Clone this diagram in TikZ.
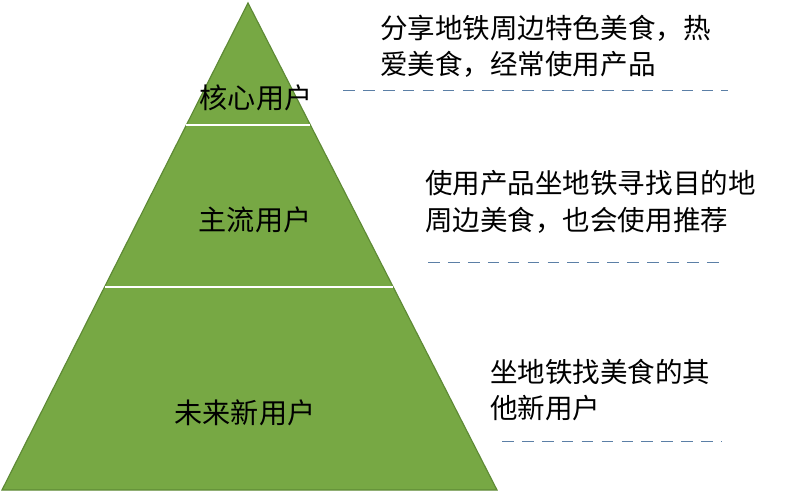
\documentclass[tikz,border=0pt]{standalone}
\usepackage{fontspec}
\setmainfont{Noto Sans CJK SC}
\usetikzlibrary{positioning}
\definecolor{leaf}{HTML}{77A844}
\definecolor{leafline}{HTML}{5E8A35}
\definecolor{guide}{HTML}{5B7FA6}
\tikzset{
    band/.style={fill=leaf, draw=leafline, line width=1pt},
    tier/.style={font=\fontsize{24}{28}\selectfont},
    note/.style={font=\fontsize{23.5}{31}\selectfont, anchor=west, align=left, inner sep=0pt},
    guideline/.style={guide, line width=0.8pt, dash pattern=on 10pt off 7pt},
}
\begin{document}
\begin{tikzpicture}[x=0.03cm, y=-0.03cm]
    \useasboundingbox (0,0) rectangle (812,492);
    % pyramid
    \coordinate (top) at (248,3);
    \coordinate (bl) at (2,490);
    \coordinate (br) at (497,490);
    \draw[band] (top) -- (bl) -- (br) -- cycle;
    \coordinate (a1) at (186.4,125);
    \coordinate (a2) at (310.4,125);
    \coordinate (b1) at (104.6,287);
    \coordinate (b2) at (393.2,287);
    \draw[white, line width=2.5pt] (a1) -- (a2);
    \draw[white, line width=2.5pt] (b1) -- (b2);

    \node[tier] (core) at (256,98) {核心用户};
    \node[tier] (main) at (255,220) {主流用户};
    \node[tier] (future) at (245,413) {未来新用户};

    % notes
    \node[note] (coreNote) at (380,46) {分享地铁周边特色美食，热\\爱美食，经常使用产品};
    \node[note] (mainNote) at (425,202) {使用产品坐地铁寻找目的地\\周边美食，也会使用推荐};
    \node[note] (futureNote) at (490,390) {坐地铁找美食的其\\他新用户};

    \coordinate (d1) at (343,90);  \coordinate (d2) at (728,90);
    \coordinate (e1) at (428,262); \coordinate (e2) at (725,262);
    \coordinate (f1) at (502,441); \coordinate (f2) at (722,441);
    \draw[guideline] (d1) -- (d2);
    \draw[guideline] (e1) -- (e2);
    \draw[guideline] (f1) -- (f2);
\end{tikzpicture}
\end{document}
